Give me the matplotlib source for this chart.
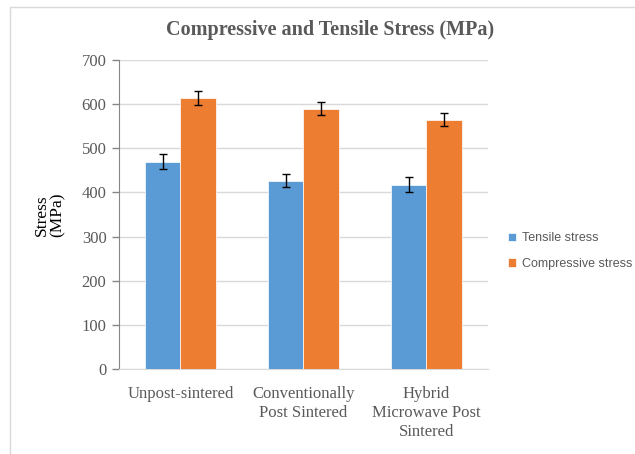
import matplotlib.pyplot as plt
from matplotlib.patches import Rectangle
import numpy as np

categories = ['Unpost-sintered', 'Conventionally\nPost Sintered', 'Hybrid\nMicrowave Post\nSintered']
tensile = [470, 427, 417]
tensile_err = [16, 15, 17]
compressive = [614, 590, 565]
compressive_err = [15, 14, 15]

blue = '#5B9BD5'
orange = '#ED7D31'
grey_text = '#595959'
serif = ['Liberation Serif', 'DejaVu Serif']

fig = plt.figure(figsize=(6.35, 4.54), dpi=100)
# chart frame
fig.patches.append(Rectangle((10 / 635, -0.05), 1.2, (454 - 7) / 454 + 0.05,
                             transform=fig.transFigure, fill=False,
                             edgecolor='#D9D9D9', linewidth=1))

ax = fig.add_axes([0.1874, 0.1872, 0.5811, 0.6806])
x = np.arange(len(categories))
w = 0.285
ax.bar(x - w / 2, tensile, w, color=blue, edgecolor='white', linewidth=0.5,
       yerr=tensile_err, capsize=3, error_kw=dict(ecolor='black', elinewidth=1, capthick=1),
       label='Tensile stress', zorder=3)
ax.bar(x + w / 2, compressive, w, color=orange, edgecolor='white', linewidth=0.5,
       yerr=compressive_err, capsize=3, error_kw=dict(ecolor='black', elinewidth=1, capthick=1),
       label='Compressive stress', zorder=3)

ax.set_xlim(-0.5, 2.5)
ax.set_ylim(0, 700)
ax.set_yticks(range(0, 701, 100))
ax.grid(axis='y', color='#D9D9D9', linewidth=1, zorder=0)
ax.set_axisbelow(True)
for s in ['top', 'right']:
    ax.spines[s].set_visible(False)
ax.spines['left'].set_color('#868686')
ax.spines['bottom'].set_color('#D9D9D9')
ax.tick_params(axis='y', colors='#868686', length=5, width=1, pad=4)
ax.tick_params(axis='x', length=0, pad=12)
ax.set_xticks(x)
ax.set_xticklabels(categories, fontfamily=serif, fontsize=12, color=grey_text, linespacing=1.25,
                   va='top')
for t in ax.get_yticklabels():
    t.set_fontfamily(serif)
    t.set_fontsize(12)
    t.set_color(grey_text)

fig.text(50 / 635, 1 - 215 / 454, 'Stress\n(MPa)', rotation=90, ha='center', va='center',
         fontfamily=serif, fontsize=12.5, color='black', linespacing=1.0)
fig.text(330 / 635, 1 - 30 / 454, 'Compressive and Tensile Stress (MPa)', ha='center', va='center',
         fontfamily=serif, fontsize=14.5, fontweight='bold', color=grey_text)

leg = fig.legend(loc='center left', bbox_to_anchor=(508 / 635, 1 - 251 / 454), frameon=False,
                 prop={'family': ['Liberation Sans', 'DejaVu Sans'], 'size': 9},
                 handlelength=0.65, handleheight=0.65, handletextpad=0.45, labelspacing=1.1,
                 borderpad=0, borderaxespad=0)
for t in leg.get_texts():
    t.set_color(grey_text)

fig.savefig('out.png', dpi=100)
